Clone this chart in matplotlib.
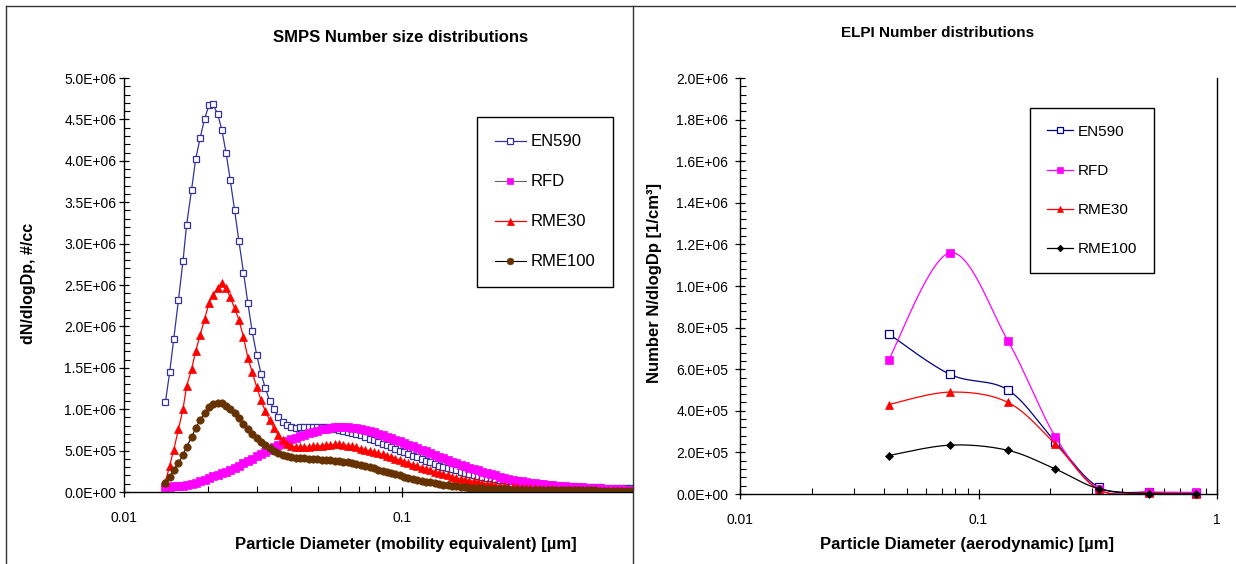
import numpy as np
import matplotlib.pyplot as plt
from matplotlib.lines import Line2D
from matplotlib.ticker import MultipleLocator, FormatStrFormatter, LogLocator, NullFormatter, FixedLocator

plt.rcParams['font.family'] = ['Liberation Sans', 'DejaVu Sans']

# SMPS channel midpoint diameters [um]
smps_dp = [
    0.0141, 0.0146, 0.0151, 0.0157, 0.0163, 0.0168, 0.0175, 0.0181, 0.0188, 0.0195,
    0.0202, 0.0209, 0.0217, 0.0225, 0.0233, 0.0241, 0.0250, 0.0259, 0.0269, 0.0279,
    0.0289, 0.0300, 0.0311, 0.0322, 0.0334, 0.0346, 0.0359, 0.0372, 0.0385, 0.0400,
    0.0414, 0.0429, 0.0445, 0.0461, 0.0478, 0.0496, 0.0514, 0.0533, 0.0552, 0.0573,
    0.0594, 0.0615, 0.0638, 0.0661, 0.0685, 0.0710, 0.0737, 0.0764, 0.0791, 0.0820,
    0.0851, 0.0882, 0.0914, 0.0947, 0.0982, 0.1018, 0.1055, 0.1094, 0.1134, 0.1176,
    0.1219, 0.1263, 0.1310, 0.1358, 0.1407, 0.1459, 0.1512, 0.1568, 0.1625, 0.1685,
    0.1747, 0.1811, 0.1877, 0.1946, 0.2017, 0.2091, 0.2167, 0.2247, 0.2329, 0.2414,
    0.2503, 0.2595, 0.2690, 0.2788, 0.2890, 0.2996, 0.3106, 0.3220, 0.3338, 0.3460,
    0.3587, 0.3718, 0.3854, 0.3995, 0.4142, 0.4294, 0.4451, 0.4614, 0.4783, 0.4958,
    0.5140, 0.5328, 0.5523, 0.5725, 0.5935, 0.6153, 0.6378, 0.6612,
]

# dN/dlogDp in units of 1E+06 #/cc
smps_en590 = [
    1.09, 1.45, 1.85, 2.32, 2.79, 3.23, 3.65, 4.02, 4.28, 4.51,
    4.67, 4.68, 4.57, 4.37, 4.09, 3.77, 3.40, 3.03, 2.65, 2.28,
    1.94, 1.66, 1.43, 1.26, 1.10, 1.00, 0.91, 0.85, 0.81, 0.78,
    0.775, 0.78, 0.785, 0.79, 0.79, 0.79, 0.785, 0.78, 0.77, 0.76,
    0.75, 0.74, 0.73, 0.715, 0.70, 0.685, 0.665, 0.645, 0.625, 0.605,
    0.585, 0.565, 0.545, 0.52, 0.50, 0.48, 0.46, 0.44, 0.42, 0.40,
    0.38, 0.36, 0.34, 0.32, 0.305, 0.29, 0.275, 0.26, 0.245, 0.23,
    0.22, 0.205, 0.195, 0.185, 0.175, 0.165, 0.158, 0.15, 0.143, 0.135,
    0.128, 0.12, 0.114, 0.108, 0.102, 0.097, 0.093, 0.089, 0.085, 0.082,
    0.079, 0.076, 0.073, 0.07, 0.068, 0.066, 0.064, 0.062, 0.06, 0.058,
    0.056, 0.054, 0.052, 0.05, 0.049, 0.047, 0.046, 0.045,
]
smps_rfd = [
    0.060, 0.065, 0.068, 0.072, 0.078, 0.085, 0.095, 0.11, 0.13, 0.15,
    0.17, 0.19, 0.205, 0.225, 0.245, 0.27, 0.295, 0.32, 0.345, 0.37,
    0.40, 0.43, 0.455, 0.48, 0.51, 0.54, 0.565, 0.59, 0.615, 0.635,
    0.655, 0.675, 0.69, 0.71, 0.725, 0.74, 0.755, 0.765, 0.775, 0.783,
    0.788, 0.79, 0.785, 0.778, 0.77, 0.76, 0.75, 0.735, 0.72, 0.705,
    0.69, 0.67, 0.65, 0.63, 0.61, 0.59, 0.57, 0.55, 0.53, 0.51,
    0.49, 0.465, 0.445, 0.425, 0.405, 0.385, 0.365, 0.345, 0.325, 0.31,
    0.295, 0.275, 0.26, 0.245, 0.23, 0.215, 0.20, 0.185, 0.172, 0.16,
    0.148, 0.137, 0.128, 0.12, 0.112, 0.105, 0.098, 0.092, 0.086, 0.081,
    0.076, 0.072, 0.068, 0.064, 0.061, 0.058, 0.055, 0.052, 0.05, 0.047,
    0.045, 0.042, 0.04, 0.037, 0.034, 0.031, 0.028, 0.025,
]
smps_rme30 = [
    0.125, 0.32, 0.51, 0.76, 1.00, 1.28, 1.48, 1.70, 1.90, 2.09,
    2.28, 2.38, 2.46, 2.52, 2.46, 2.35, 2.22, 2.08, 1.87, 1.62,
    1.45, 1.27, 1.11, 0.98, 0.87, 0.77, 0.69, 0.63, 0.58, 0.555,
    0.545, 0.54, 0.54, 0.545, 0.55, 0.555, 0.56, 0.565, 0.57, 0.575,
    0.575, 0.57, 0.56, 0.55, 0.54, 0.525, 0.51, 0.495, 0.48, 0.465,
    0.455, 0.44, 0.42, 0.40, 0.385, 0.365, 0.345, 0.33, 0.31, 0.295,
    0.28, 0.265, 0.245, 0.23, 0.215, 0.20, 0.185, 0.17, 0.16, 0.148,
    0.137, 0.127, 0.117, 0.108, 0.10, 0.092, 0.085, 0.078, 0.072, 0.066,
    0.061, 0.057, 0.053, 0.049, 0.046, 0.043, 0.04, 0.037, 0.034, 0.031,
    0.029, 0.027, 0.025, 0.023, 0.021, 0.019, 0.017, 0.015, 0.013, 0.012,
    0.011, 0.01, 0.009, 0.008, 0.007, 0.006, 0.005, 0.004,
]
smps_rme100 = [
    0.105, 0.178, 0.266, 0.354, 0.447, 0.547, 0.66, 0.77, 0.87, 0.958,
    1.023, 1.063, 1.079, 1.071, 1.043, 1.002, 0.95, 0.89, 0.82, 0.757,
    0.70, 0.648, 0.604, 0.564, 0.528, 0.495, 0.471, 0.451, 0.435, 0.423,
    0.415, 0.41, 0.405, 0.40, 0.398, 0.395, 0.392, 0.388, 0.384, 0.38,
    0.375, 0.368, 0.36, 0.35, 0.34, 0.325, 0.31, 0.298, 0.285, 0.27,
    0.258, 0.245, 0.23, 0.215, 0.20, 0.187, 0.172, 0.16, 0.148, 0.137,
    0.126, 0.116, 0.107, 0.098, 0.09, 0.083, 0.076, 0.07, 0.064, 0.059,
    0.054, 0.05, 0.046, 0.043, 0.04, 0.038, 0.036, 0.034, 0.032, 0.031,
    0.03, 0.029, 0.028, 0.027, 0.027, 0.026, 0.025, 0.025, 0.024, 0.024,
    0.023, 0.023, 0.022, 0.022, 0.021, 0.021, 0.02, 0.02, 0.019, 0.019,
    0.018, 0.018, 0.017, 0.017, 0.017, 0.016, 0.016, 0.016,
]

# ELPI stage diameters [um] and N/dlogDp in units of 1E+06 1/cm3
elpi_dp = [0.042, 0.076, 0.133, 0.21, 0.32, 0.52, 0.82]
elpi_en590 = [0.77, 0.575, 0.50, 0.25, 0.032, 0.008, 0.005]
elpi_rfd = [0.645, 1.16, 0.735, 0.275, 0.022, 0.010, 0.008]
elpi_rme30 = [0.43, 0.49, 0.44, 0.24, 0.02, 0.005, 0.002]
elpi_rme100 = [0.185, 0.235, 0.21, 0.12, 0.025, 0.002, 0.001]

labels = ['EN590', 'RFD', 'RME30', 'RME100']

W, H = 1236, 564


def px_box(x0, y0, x1, y1):
    # pixel box (top-left origin) -> figure fraction rect
    return [x0 / W, 1 - y1 / H, (x1 - x0) / W, (y1 - y0) / H]


def smooth(x, y, yscale, n=30):
    """Bezier smoothing through the points, in log-x / linear-y space."""
    pts = np.column_stack([np.log10(x), np.asarray(y) * yscale])
    ext = np.vstack([pts[0], pts, pts[-1]])
    out = []
    t = np.linspace(0, 1, n)[:, None]
    for i in range(len(pts) - 1):
        p0, p1, p2, p3 = ext[i], ext[i + 1], ext[i + 2], ext[i + 3]
        c1 = p1 + (p2 - p0) / 6
        c2 = p2 - (p3 - p1) / 6
        seg = (1 - t) ** 3 * p1 + 3 * (1 - t) ** 2 * t * c1 + 3 * (1 - t) * t ** 2 * c2 + t ** 3 * p2
        out.append(seg if i == 0 else seg[1:])
    out = np.vstack(out)
    return 10 ** out[:, 0], out[:, 1] / yscale


def style_axes(ax, ymax, ymajor, yminor, ypad, xmax):
    ax.set_xscale('log')
    ax.set_xlim(0.01, xmax)
    ax.set_ylim(0, ymax)
    ax.yaxis.set_major_locator(MultipleLocator(ymajor))
    ax.yaxis.set_minor_locator(MultipleLocator(yminor))
    ax.yaxis.set_major_formatter(FormatStrFormatter('%.1E'))
    ax.xaxis.set_major_locator(FixedLocator([0.01, 0.1, 1]))
    ax.xaxis.set_major_formatter(FormatStrFormatter('%g'))
    ax.xaxis.set_minor_locator(LogLocator(base=10, subs=np.arange(2, 10)))
    ax.xaxis.set_minor_formatter(NullFormatter())
    ax.tick_params(which='major', direction='inout', length=7, width=0.9, labelsize=10, color='black')
    ax.tick_params(which='minor', direction='in', length=4, width=0.8, color='black')
    ax.tick_params(axis='y', which='major', pad=ypad)
    ax.tick_params(axis='x', which='major', pad=10)
    ax.spines['top'].set_visible(False)
    for s in ('left', 'bottom', 'right'):
        ax.spines[s].set_linewidth(1.0)
    ax.patch.set_alpha(0)


fig = plt.figure(figsize=(W / 100, H / 100), dpi=100)

# panel frames
frame_kw = dict(color='#333333', lw=1.0, transform=fig.transFigure)
fig.add_artist(Line2D([6 / W, 1], [1 - 6 / H, 1 - 6 / H], **frame_kw))
fig.add_artist(Line2D([6 / W, 6 / W], [0, 1 - 6 / H], **frame_kw))
fig.add_artist(Line2D([633 / W, 633 / W], [0, 1 - 6 / H], **frame_kw))

# ---- SMPS panel ----
ax1 = fig.add_axes(px_box(124, 78, 632, 492))
style_axes(ax1, 5e6, 5e5, 1e5, 2, 0.6717)
ax1.spines['right'].set_visible(False)

x = np.array(smps_dp)
ax1.plot(x, np.array(smps_en590) * 1e6, color='#333399', lw=0.9, marker='s', ms=5.0,
         mfc='white', mec='#333399', mew=0.9, label='EN590', clip_on=False)
ax1.plot(x, np.array(smps_rfd) * 1e6, color='#666666', lw=0.8, marker='s', ms=5.3,
         mfc='#FF00FF', mec='#FF00FF', mew=0.5, label='RFD')
ax1.plot(x, np.array(smps_rme30) * 1e6, color='red', lw=0.9, marker='^', ms=5.6,
         mfc='red', mec='red', mew=0.5, label='RME30')
ax1.plot(x, np.array(smps_rme100) * 1e6, color='black', lw=0.8, marker='o', ms=5.3,
         mfc='#663300', mec='#663300', mew=0.5, label='RME100')

leg1 = ax1.legend(loc='upper left', bbox_to_anchor=(477 / W, 1 - 117 / H),
                  bbox_transform=fig.transFigure, fontsize=12, frameon=True,
                  fancybox=False, edgecolor='black', framealpha=1,
                  borderpad=1.05, labelspacing=1.5, handlelength=1.9,
                  handletextpad=0.25, borderaxespad=0, markerscale=0.9)
leg1.get_frame().set_linewidth(1.0)

fig.text(401 / W, 1 - 38 / H, 'SMPS Number size distributions', ha='center', va='center',
         fontsize=12, fontweight='bold')
fig.text(406 / W, 1 - 544 / H, 'Particle Diameter (mobility equivalent) [\u00b5m]',
         ha='center', va='center', fontsize=12, fontweight='bold')
fig.text(28 / W, 1 - 283 / H, 'dN/dlogDp, #/cc', ha='center', va='center', rotation=90,
         fontsize=11.5, fontweight='bold')

# ---- ELPI panel ----
ax2 = fig.add_axes(px_box(740, 78, 1217, 494))
style_axes(ax2, 2e6, 2e5, 4e4, 5, 1.0)

yscale = 416 / 238.5 / 2e6
xe = np.array(elpi_dp)
series = [
    (elpi_en590, dict(color='#000080', marker='s', mfc='white', mec='#000080', ms=5.2, mew=0.9)),
    (elpi_rfd, dict(color='#FF00FF', marker='s', mfc='#FF00FF', mec='#FF00FF', ms=5.2, mew=0.5)),
    (elpi_rme30, dict(color='red', marker='^', mfc='red', mec='red', ms=6.0, mew=0.5)),
    (elpi_rme100, dict(color='black', marker='D', mfc='black', mec='black', ms=4.2, mew=0.5)),
]
handles = []
for vals, kw in series:
    yv = np.array(vals) * 1e6
    sx, sy = smooth(xe, yv, yscale)
    ax2.plot(sx, sy, color=kw['color'], lw=0.9)
    ax2.plot(xe, yv, ls='none', clip_on=False, **{k: v for k, v in kw.items() if k != 'color'})
    handles.append(Line2D([], [], lw=0.9, **kw))

leg2 = ax2.legend(handles, labels, loc='upper left', bbox_to_anchor=(1030 / W, 1 - 108 / H),
                  bbox_transform=fig.transFigure, fontsize=11, frameon=True,
                  fancybox=False, edgecolor='black', framealpha=1,
                  borderpad=1.1, labelspacing=1.65, handlelength=1.7,
                  handletextpad=0.3, borderaxespad=0, markerscale=0.8)
leg2.get_frame().set_linewidth(1.0)

fig.text(938 / W, 1 - 33 / H, 'ELPI Number distributions', ha='center', va='center',
         fontsize=11, fontweight='bold')
fig.text(967 / W, 1 - 544 / H, 'Particle Diameter (aerodynamic) [\u00b5m]',
         ha='center', va='center', fontsize=12, fontweight='bold')
fig.text(655 / W, 1 - 283 / H, 'Number N/dlogDp [1/cm\u00b3]', ha='center', va='center',
         rotation=90, fontsize=12, fontweight='bold')

fig.savefig('out.png', dpi=100, facecolor='white')
